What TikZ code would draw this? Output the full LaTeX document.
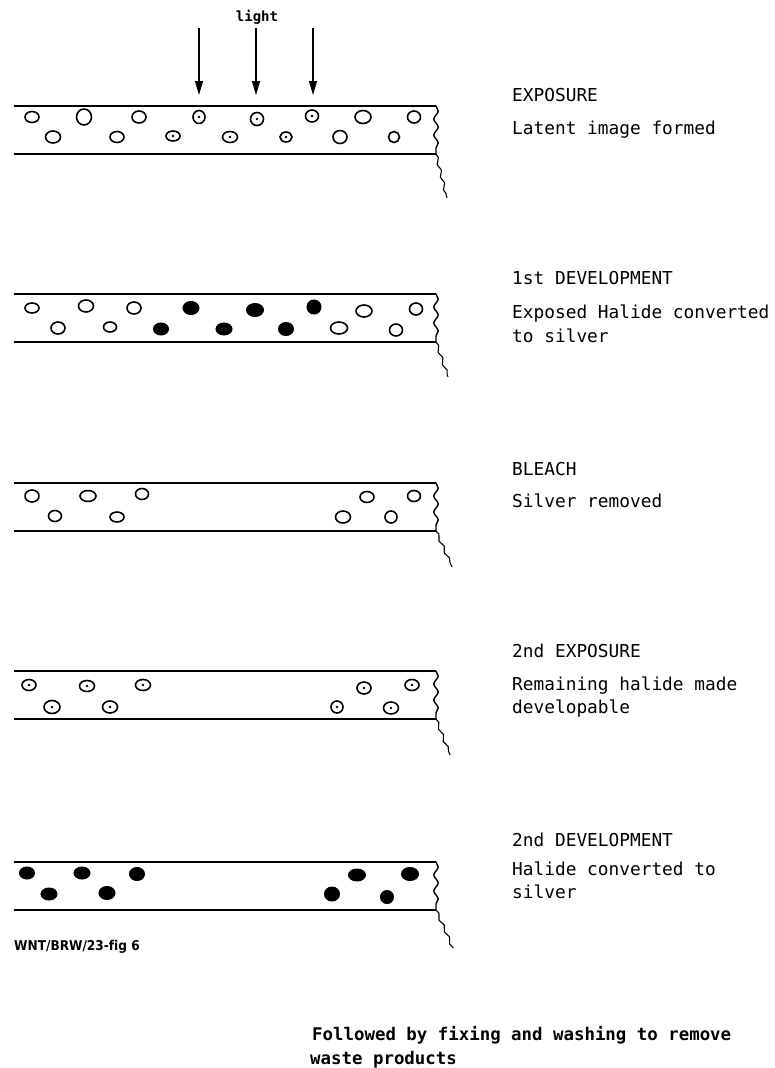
\documentclass[tikz,border=0pt]{standalone}
\usepackage{fontspec}
\newfontfamily\lettering{DejaVu Sans Mono}
\newfontfamily\stamp[Ligatures=NoCommon]{DejaVu Sans Condensed}
\usetikzlibrary{arrows.meta,decorations.pathmorphing}

\tikzset{
  edge line/.style={line width=1.4pt},
  grain/.style={line width=1.6pt},
  silver/.style={fill=black,draw=black,line width=1pt},
  ray/.style={line width=1.1pt,-{Triangle[length=14pt,width=8pt]}},
  caption/.style={anchor=base west,inner sep=0pt,
    font=\lettering\fontsize{17.8}{21}\selectfont},
}

% one strip of emulsion: top edge y, end of the torn tail
\newcommand\filmstrip[3]{%
  \draw[edge line] (14,#1) -- (436,#1);
  \draw[edge line] (14,{#1+48}) -- (436,{#1+48});
  \draw[edge line,decorate,decoration={snake,amplitude=2.2pt,segment length=16pt}]
    (436,#1) -- (436,{#1+48});
  \draw[line width=1.1pt,decorate,decoration={snake,amplitude=1.4pt,segment length=13pt}]
    (436,{#1+48}) -- (#2,#3);
}

\begin{document}
\begin{tikzpicture}[x=1pt,y=-1pt]
\useasboundingbox (0,0) rectangle (774,1068);

% light falling on the first strip
\node[inner sep=0pt,anchor=base,font=\lettering\bfseries\fontsize{14}{16}\selectfont] (light) at (257,21) {light};
\foreach \i/\x in {1/199,2/256,3/313}{
  \coordinate (src\i) at (\x,28);
  \coordinate (hit\i) at (\x,95);
  \draw[ray] (src\i) -- (hit\i);
}

% the five strips
\filmstrip{106}{447}{198}
\filmstrip{294}{448}{377}
\filmstrip{483}{452}{567}
\filmstrip{671}{450}{755}
\filmstrip{862}{453}{948}

% exposure: plain grains and grains with a latent image
\foreach \x/\y/\a/\b in {32/117/7/5.5,84/117/7.5/8,139/117/7/6,363/117/8/6.5,414/117/6.5/6,
  53/137/7.5/6,117/137/7/5.5,340/137/7/6.5,394/137/5.5/5.5}
  \draw[grain] (\x,\y) ellipse[x radius=\a,y radius=\b];
\foreach \x/\y/\a/\b in {199/117/6/6.5,257/119/6.5/6.5,312/116/6.5/6,
  173/136/7/5,230/137/7.5/5.5,286/137/6/5}{
  \draw[grain] (\x,\y) ellipse[x radius=\a,y radius=\b];
  \fill (\x,\y) circle[radius=1.3];
}

% 1st development
\foreach \x/\y/\a/\b in {32/308/7/5,86/306/7.5/6,134/308/7/6,364/311/8/6,416/309/6.5/6,
  58/328/7/6,110/327/6.5/5,339/328/8.5/6,396/330/6.5/6}
  \draw[grain] (\x,\y) ellipse[x radius=\a,y radius=\b];
\foreach \x/\y/\a/\b in {191/308/8/6.5,255/310/8.5/6.5,314/307/7/7,
  161/329/7.5/6,224/329/8/6,286/329/7.5/6.5}
  \draw[silver] (\x,\y) ellipse[x radius=\a,y radius=\b];

% bleach
\foreach \x/\y/\a/\b in {32/496/7/6,88/496/8/5.5,142/494/6.5/5.5,367/497/7/5.5,414/496/6.5/5.5,
  55/516/6.5/5.5,117/517/7/5,343/517/7.5/6,391/517/6/6}
  \draw[grain] (\x,\y) ellipse[x radius=\a,y radius=\b];

% 2nd exposure
\foreach \x/\y/\a/\b in {29/685/7/5.5,87/686/7.5/5.5,143/685/7.5/5.5,364/688/7/6,412/685/7/5.5,
  52/707/8/6.5,110/707/7.5/6,337/707/6/6,391/708/7.5/6}{
  \draw[grain] (\x,\y) ellipse[x radius=\a,y radius=\b];
  \fill (\x,\y) circle[radius=1.3];
}

% 2nd development
\foreach \x/\y/\a/\b in {27/873/7.5/6,82/873/8/6,137/874/7.5/6.5,357/875/8.5/6,410/874/8.5/6.5,
  49/894/8/6,107/893/8/6.5,332/894/7.5/7,387/897/6.5/6.5}
  \draw[silver] (\x,\y) ellipse[x radius=\a,y radius=\b];

% step captions
\node[caption] (t1) at (512,101) {EXPOSURE};
\node[caption] (d1) at (512,134) {Latent image formed};
\node[caption] (t2) at (512,284) {1st DEVELOPMENT};
\node[caption] (d2) at (512,318) {Exposed Halide converted};
\node[caption] (d2b) at (512,342) {to silver};
\node[caption] (t3) at (512,475) {BLEACH};
\node[caption] (d3) at (512,507) {Silver removed};
\node[caption] (t4) at (512,657) {2nd EXPOSURE};
\node[caption] (d4) at (512,690) {Remaining halide made};
\node[caption] (d4b) at (512,713) {developable};
\node[caption] (t5) at (512,846) {2nd DEVELOPMENT};
\node[caption] (d5) at (512,875) {Halide converted to};
\node[caption] (d5b) at (512,898) {silver};

\node[anchor=base west,inner sep=0pt,font=\stamp\bfseries\fontsize{13.5}{15}\selectfont] (ref) at (14,950) {WNT/BRW/23-fig 6};

\node[caption,font=\lettering\bfseries\fontsize{17.4}{21}\selectfont] (note1) at (312,1040) {Followed by fixing and washing to remove};
\node[caption,font=\lettering\bfseries\fontsize{17.4}{21}\selectfont] (note2) at (310,1064) {waste products};
\end{tikzpicture}
\end{document}
